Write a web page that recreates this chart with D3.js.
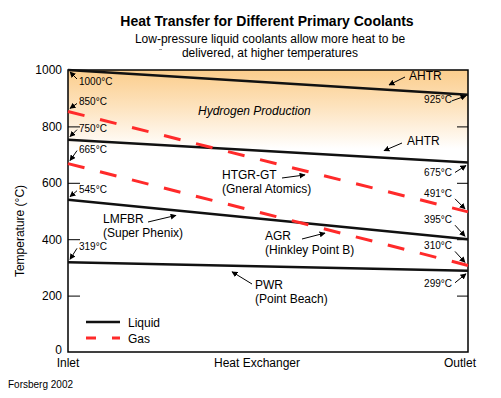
<!DOCTYPE html>
<html>
<head>
<meta charset="utf-8">
<script src="https://cdn.jsdelivr.net/npm/d3@7"></script>
<style>
  body { margin: 0; background: #fff; }
  svg { font-family: "Liberation Sans", Arial, sans-serif; }
</style>
</head>
<body>
<div id="chart"></div>
<script>
// Data
const reactors = ["AHTR", "AHTR", "HTGR-GT", "LMFBR", "AGR", "PWR"];
const coolants = ["Liquid", "Liquid", "Gas", "Liquid", "Gas", "Liquid"];
const inletTemps = [1000, 753, 853, 540, 668, 318];
const outletTemps = [912, 672, 497, 400, 307, 288];
const inletLabels = ["1000°C", "750°C", "850°C", "545°C", "665°C", "319°C"];
const outletLabels = ["925°C", "675°C", "491°C", "395°C", "310°C", "299°C"];
const subLabels = ["", "", "(Gneral Atomics)", "(Super Phenix)", "(Hinkley Point B)", "(Point Beach)"];
const stages = ["Inlet", "Heat Exchanger", "Outlet"];
const yTicks = [0, 200, 400, 600, 800, 1000];
const legendItems = ["Liquid", "Gas"];

const width = 501;
const height = 398;
const margin = { top: 70, right: 33, bottom: 46, left: 68 };

const svg = d3.select("#chart")
  .append("svg")
  .attr("width", width)
  .attr("height", height);

const x = d3.scaleLinear().domain([0, 1]).range([margin.left, width - margin.right]);
const y = d3.scaleLinear().domain([0, 1000]).range([height - margin.bottom, margin.top]);

// background gradient (hydrogen production zone)
const defs = svg.append("defs");
const grad = defs.append("linearGradient")
  .attr("id", "h2grad")
  .attr("x1", 0).attr("y1", 0).attr("x2", 0).attr("y2", 1);
grad.append("stop").attr("offset", "0%").attr("stop-color", "#fbcd8c");
grad.append("stop").attr("offset", "45%").attr("stop-color", "#fde2bc");
grad.append("stop").attr("offset", "100%").attr("stop-color", "#ffffff");

defs.append("marker")
  .attr("id", "arrow")
  .attr("viewBox", "0 0 10 10")
  .attr("refX", 9).attr("refY", 5)
  .attr("markerWidth", 6).attr("markerHeight", 6)
  .attr("markerUnits", "userSpaceOnUse")
  .attr("orient", "auto")
  .append("path")
  .attr("d", "M0,0L10,5L0,10z")
  .attr("fill", "#000");

svg.append("rect")
  .attr("x", x(0)).attr("y", y(1000))
  .attr("width", x(1) - x(0))
  .attr("height", y(720) - y(1000))
  .attr("fill", "url(#h2grad)");

// titles
svg.append("text")
  .attr("x", 267).attr("y", 26)
  .attr("text-anchor", "middle")
  .style("font-size", "14px").style("font-weight", "bold")
  .text("Heat Transfer for Different Primary Coolants");
svg.append("text")
  .attr("x", 270).attr("y", 43)
  .attr("text-anchor", "middle")
  .style("font-size", "12px")
  .text("Low-pressure liquid coolants allow more heat to be");
svg.append("text")
  .attr("x", 270).attr("y", 57)
  .attr("text-anchor", "middle")
  .style("font-size", "12px")
  .text("delivered, at higher temperatures");
// small stray mark in the original image
svg.append("line")
  .attr("x1", 159).attr("x2", 162).attr("y1", 49.5).attr("y2", 49.5)
  .attr("stroke", "#999").attr("stroke-width", 1);

svg.append("text")
  .attr("x", 8).attr("y", 388)
  .style("font-size", "10px")
  .text("Forsberg 2002");

svg.append("text")
  .attr("x", 198).attr("y", 115)
  .style("font-size", "12px").style("font-style", "italic")
  .text("Hydrogen Production");

// axes
const yAxis = svg.append("g")
  .attr("transform", `translate(${x(0)},0)`)
  .call(d3.axisLeft(y).tickValues(yTicks).tickSize(-12).tickPadding(6).tickFormat(d3.format("d")));
yAxis.select(".domain").remove();
yAxis.selectAll("text").style("font-size", "12px").attr("fill", "#000")
  .attr("x", -6)
  .attr("dy", d => d === 0 ? "0.1em" : "0.32em");
yAxis.selectAll("line").filter(d => d === 0 || d === 1000).remove();

const yAxisR = svg.append("g")
  .attr("transform", `translate(${x(1)},0)`)
  .call(d3.axisRight(y).tickValues(yTicks.filter(d => d > 0 && d < 1000)).tickSize(-11).tickFormat(""));
yAxisR.select(".domain").remove();

svg.append("rect")
  .attr("x", x(0)).attr("y", y(1000))
  .attr("width", x(1) - x(0)).attr("height", y(0) - y(1000))
  .attr("fill", "none").attr("stroke", "#000").attr("stroke-width", 1.5);

svg.append("text")
  .attr("transform", `translate(24,${(y(0) + y(1000)) / 2 + 20}) rotate(-90)`)
  .attr("text-anchor", "middle")
  .style("font-size", "12px")
  .text("Temperature (°C)");

const stageX = [x(0), 257, x(1) - 8];
svg.selectAll(".stage")
  .data(stages)
  .join("text")
  .attr("class", "stage")
  .attr("x", (d, i) => stageX[i])
  .attr("y", 367)
  .attr("text-anchor", "middle")
  .style("font-size", "12px")
  .text(d => d);

// coolant lines
const line = d3.line().x(d => x(d[0])).y(d => y(d[1]));
svg.selectAll(".coolant")
  .data(reactors.map((r, i) => ({ r, i, pts: [[0, inletTemps[i]], [1, outletTemps[i]]] })))
  .join("path")
  .attr("class", "coolant")
  .attr("d", d => line(d.pts))
  .attr("fill", "none")
  .attr("stroke", d => coolants[d.i] === "Gas" ? "#ff2a2a" : "#111")
  .attr("stroke-width", d => coolants[d.i] === "Gas" ? 3 : 2.5)
  .attr("stroke-dasharray", d => coolants[d.i] === "Gas" ? "17,16" : null);

function arrow(x1, y1, x2, y2) {
  svg.append("line")
    .attr("x1", x1).attr("y1", y1).attr("x2", x2).attr("y2", y2)
    .attr("stroke", "#000").attr("stroke-width", 1)
    .attr("marker-end", "url(#arrow)");
}
function lineY(i, t) {
  return y(inletTemps[i] + (outletTemps[i] - inletTemps[i]) * t);
}

// inlet temperature labels
const inletDy = [15, -8, -6, -7, -11, -12];
inletLabels.forEach((lab, i) => {
  const ly = y(inletTemps[i]);
  const ty = ly + inletDy[i];
  svg.append("text").attr("x", 79).attr("y", ty)
    .style("font-size", "10px").text(lab);
  if (inletDy[i] > 0) arrow(77, ty - 6, 70, ly + 2);
  else arrow(77, ty - 2, 70, ly - 3);
});

// outlet temperature labels
const outletDy = [8, 14, -15, -16, -16, 16];
outletLabels.forEach((lab, i) => {
  const ly = y(outletTemps[i]);
  const ty = ly + outletDy[i];
  svg.append("text").attr("x", 452).attr("y", ty)
    .attr("text-anchor", "end")
    .style("font-size", "10px").text(lab);
  if (i === 0) arrow(452, ty - 2, x(1) - 2, ly + 1);
  else if (outletDy[i] > 0) arrow(455, ty - 4, x(1) - 2, ly + 3);
  else arrow(455, ty + 2, x(1) - 3, ly - 3);
});

// reactor name callouts: text position, arrow tail, point on line (t) and offset
const callouts = [
  { tx: 409, ty: 80, ax: 405, ay: 77, t: 0.8025, dy: -5 },
  { tx: 407, ty: 145, ax: 402, ay: 143, t: 0.79, dy: -7 },
  { tx: 222, ty: 179, ax: 282, ay: 178, t: 0.5925, dy: 4 },
  { tx: 103, ty: 223, ax: 148, ay: 222, t: 0.27, dy: 5 },
  { tx: 265, ty: 240, ax: 302, ay: 239, t: 0.6425, dy: 4 },
  { tx: 255, ty: 289, ax: 252, ay: 284, t: 0.41, dy: 6 }
];
callouts.forEach((c, i) => {
  svg.append("text").attr("x", c.tx).attr("y", c.ty)
    .style("font-size", "12px").text(reactors[i]);
  if (subLabels[i]) {
    svg.append("text").attr("x", c.tx).attr("y", c.ty + 14)
      .style("font-size", "12px").text(subLabels[i]);
  }
  arrow(c.ax, c.ay, x(c.t), lineY(i, c.t) + c.dy);
});

// legend
const legend = svg.append("g").attr("transform", "translate(86,322)");
legendItems.forEach((name, i) => {
  legend.append("line")
    .attr("x1", 0).attr("x2", 34)
    .attr("y1", i * 16).attr("y2", i * 16)
    .attr("stroke", name === "Gas" ? "#ff2a2a" : "#111")
    .attr("stroke-width", name === "Gas" ? 3 : 2.5)
    .attr("stroke-dasharray", name === "Gas" ? "10,16" : null);
  legend.append("text")
    .attr("x", 42).attr("y", i * 16 + 5)
    .style("font-size", "12px")
    .text(name);
});
</script>
</body>
</html>
